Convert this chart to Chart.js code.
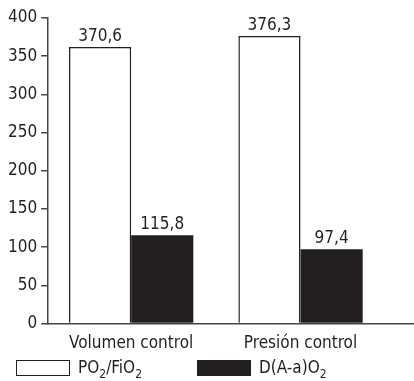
<!DOCTYPE html>
<html>
<head>
<meta charset="utf-8">
<script src="https://cdn.jsdelivr.net/npm/chart.js@4"></script>
<style>
  html, body { margin: 0; padding: 0; background: #fff; }
  #wrap { position: relative; width: 414px; height: 381px; }
  #chart { position: absolute; left: 0; top: 0; }
  .legend { position: absolute; top: 358px; left: 16px; font-family: 'Liberation Sans Narrow', 'DejaVu Sans Condensed', sans-serif; font-size: 17px; color: #231f20; }
  .item { position: absolute; top: 0; white-space: nowrap; }
  .box { position: absolute; top: 2px; width: 52px; height: 14px; border: 1px solid #231f20; }
  .txt { position: absolute; top: -1px; left: 62px; }
  sub { font-size: 12px; vertical-align: -5px; }
</style>
</head>
<body>
<div id="wrap">
  <canvas id="chart" width="414" height="358"></canvas>
  <div class="legend" id="legend"></div>
</div>
<script>
// Chart data
const categories = ['Volumen control', 'Presión control'];
const seriesNames = ['PO<sub>2</sub>/FiO<sub>2</sub>', 'D(A-a)O<sub>2</sub>'];
const seriesColors = ['#ffffff', '#231f20'];
const pafiValues = [362, 376.3];
const daaValues = [115.8, 97.4];
const pafiLabels = ['370,6', '376,3'];
const daaLabels = ['115,8', '97,4'];
const yTicks = [0, 50, 100, 150, 200, 250, 300, 350, 400];

const FONT = "'Liberation Sans Narrow', 'DejaVu Sans Condensed', sans-serif";

// value labels above bars
const barLabels = {
    id: 'barLabels',
    afterDatasetsDraw(chart) {
        const ctx = chart.ctx;
        const texts = [pafiLabels, daaLabels];
        ctx.save();
        ctx.font = '17px ' + FONT;
        ctx.fillStyle = '#231f20';
        ctx.textAlign = 'center';
        ctx.textBaseline = 'bottom';
        chart.data.datasets.forEach((ds, i) => {
            chart.getDatasetMeta(i).data.forEach((bar, j) => {
                ctx.fillText(texts[i][j], bar.x, bar.y - 2);
            });
        });
        ctx.restore();
    }
};

new Chart(document.getElementById('chart'), {
    type: 'bar',
    data: {
        datasets: [{
            label: 'PO2/FiO2',
            data: pafiValues.map((v, i) => ({ x: i, y: v })),
            backgroundColor: seriesColors[0],
            borderColor: '#231f20',
            borderWidth: 1.5
        }, {
            label: 'D(A-a)O2',
            data: daaValues.map((v, i) => ({ x: i, y: v })),
            backgroundColor: seriesColors[1],
            borderColor: '#231f20',
            borderWidth: 0
        }]
    },
    options: {
        responsive: false,
        animation: false,
        categoryPercentage: 0.734,
        barPercentage: 1,
        layout: { padding: { top: 18, right: 0, left: 4, bottom: 2 } },
        plugins: {
            tooltip: { enabled: false },
            legend: { display: false }
        },
        scales: {
            x: {
                type: 'linear',
                offset: false,
                min: -0.49,
                max: 1.67,
                afterBuildTicks: axis => { axis.ticks = categories.map((c, i) => ({ value: i })); },
                ticks: {
                    callback: (v) => categories[v],
                    color: '#231f20',
                    font: { family: FONT, size: 17 },
                    padding: 2,
                    maxRotation: 0
                },
                grid: { display: false },
                border: { display: true, color: '#444', width: 1.5 }
            },
            y: {
                min: 0,
                max: 400,
                afterBuildTicks: axis => { axis.ticks = yTicks.map(v => ({ value: v })); },
                ticks: {
                    color: '#231f20',
                    font: { family: FONT, size: 17 },
                    padding: 4
                },
                grid: { drawOnChartArea: false, drawTicks: true, tickLength: 7, color: '#444', lineWidth: 1.5 },
                border: { display: true, color: '#444', width: 1.5 }
            }
        }
    },
    plugins: [barLabels]
});

// legend with subscripts
const legendLeft = [0, 181];
document.getElementById('legend').innerHTML = seriesNames.map((name, i) =>
    `<div class="item" style="left:${legendLeft[i]}px">
        <span class="box" style="background:${seriesColors[i]}"></span>
        <span class="txt">${name}</span>
    </div>`).join('');
</script>
</body>
</html>
